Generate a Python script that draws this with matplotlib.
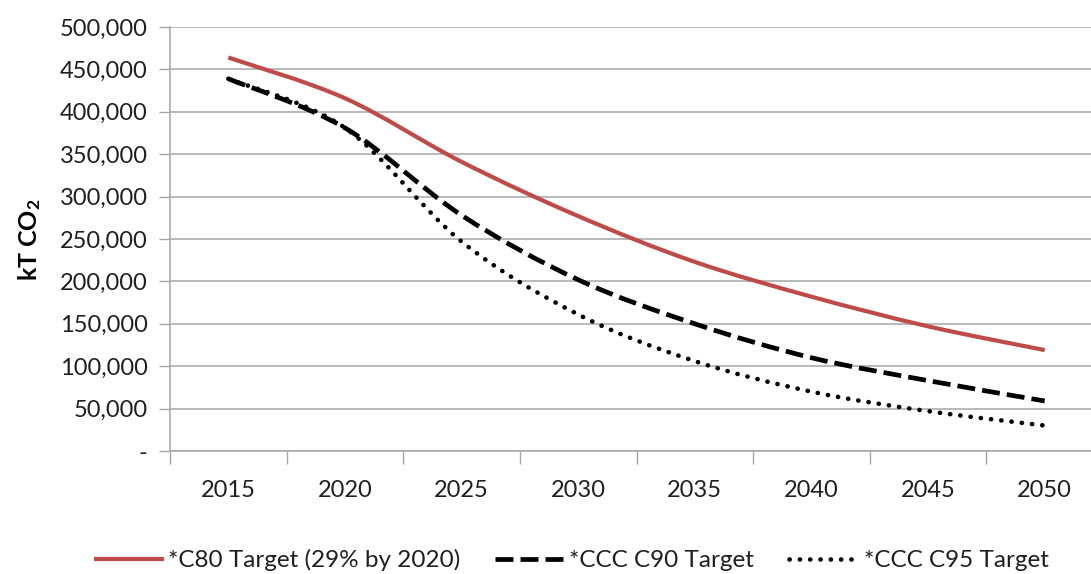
import matplotlib
matplotlib.use("Agg")
import matplotlib.pyplot as plt
from matplotlib.path import Path
from matplotlib.patches import PathPatch
from matplotlib.lines import Line2D
from matplotlib.ticker import FuncFormatter, MultipleLocator

years = ["2015", "2020", "2025", "2030", "2035", "2040", "2045", "2050"]
c80_target = [464000, 416000, 341000, 277000, 223000, 182000, 147000, 119000]
c90_target = [439000, 381000, 278000, 202000, 150000, 110000, 83000, 59000]
c95_target = [439000, 381000, 247000, 161000, 106000, 70000, 47000, 30000]
labels = ["*C80 Target (29% by 2020)", "*CCC C90 Target", "*CCC C95 Target"]

plt.rcParams["font.family"] = ["Lato", "DejaVu Sans"]
plt.rcParams["mathtext.default"] = "regular"


def smooth_path(xs, ys):
    # spreadsheet-style smoothed line: cubic Bezier segments through every point
    pts = list(zip(xs, ys))
    verts = [pts[0]]
    codes = [Path.MOVETO]
    n = len(pts)
    for i in range(n - 1):
        p0 = pts[max(i - 1, 0)]
        p1 = pts[i]
        p2 = pts[i + 1]
        p3 = pts[min(i + 2, n - 1)]
        c1 = (p1[0] + (p2[0] - p0[0]) / 6, p1[1] + (p2[1] - p0[1]) / 6)
        c2 = (p2[0] - (p3[0] - p1[0]) / 6, p2[1] - (p3[1] - p1[1]) / 6)
        verts += [c1, c2, p2]
        codes += [Path.CURVE4] * 3
    return Path(verts, codes)


fig = plt.figure(figsize=(10.91, 5.74), dpi=100)
ax = fig.add_axes([170 / 1091, 123 / 574, 933 / 1091, 424 / 574])

x = list(range(len(years)))
grid_color = "#A6A6A6"
text_color = "#1F1F1F"

styles = [
    dict(color="#BE4B48", linewidth=3.0, linestyle="-", capstyle="butt"),
    dict(color="black", linewidth=3.4, linestyle=(0, (3.8, 1.5)), capstyle="butt"),
    dict(color="black", linewidth=3.3, linestyle=(0, (0.05, 2.2)), capstyle="round"),
]
series = [c80_target, c90_target, c95_target]

handles = []
for values, st, lab in zip(series, styles, labels):
    patch = PathPatch(smooth_path(x, values), fill=False, edgecolor=st["color"],
                      linewidth=st["linewidth"], linestyle=st["linestyle"],
                      capstyle=st["capstyle"], zorder=3)
    ax.add_patch(patch)
    handles.append(Line2D([], [], color=st["color"], linewidth=st["linewidth"],
                          linestyle=st["linestyle"],
                          dash_capstyle=st["capstyle"], solid_capstyle="butt"))

ax.set_xlim(-0.5, len(years) - 0.5)
ax.set_ylim(0, 500000)

ax.yaxis.set_major_locator(MultipleLocator(50000))
ax.yaxis.set_major_formatter(FuncFormatter(lambda v, p: "-" if v == 0 else f"{int(v):,}"))

# category boundaries get the tick marks, centres get the labels
ax.set_xticks([i - 0.5 for i in range(len(years) + 1)])
ax.set_xticklabels([])
ax.set_xticks(x, minor=True)
ax.set_xticklabels(years, minor=True)
ax.tick_params(axis="x", which="major", length=9, width=1, color=grid_color, direction="out")
ax.tick_params(axis="x", which="minor", length=0, pad=21, labelsize=17, labelcolor=text_color)
ax.tick_params(axis="y", length=8, width=1, color=grid_color, direction="out",
               labelsize=17, labelcolor=text_color, pad=8)

ax.grid(axis="y", color=grid_color, linewidth=1.1)
ax.set_axisbelow(True)
for side in ["top", "right"]:
    ax.spines[side].set_visible(False)
for side in ["left", "bottom"]:
    ax.spines[side].set_color(grid_color)
    ax.spines[side].set_linewidth(1.1)

fig.text(30 / 1091, 1 - 240 / 574, "kT CO$_2$", rotation=90, ha="center", va="center",
         fontsize=18, fontweight="bold", color="black")

fig.legend(handles, labels, loc="center", bbox_to_anchor=(571 / 1091, 14 / 574),
           ncol=3, frameon=False, fontsize=17.5, handlelength=2.9, handletextpad=0.15,
           columnspacing=1.45, labelcolor=text_color)

fig.savefig("out.png", dpi=100)
